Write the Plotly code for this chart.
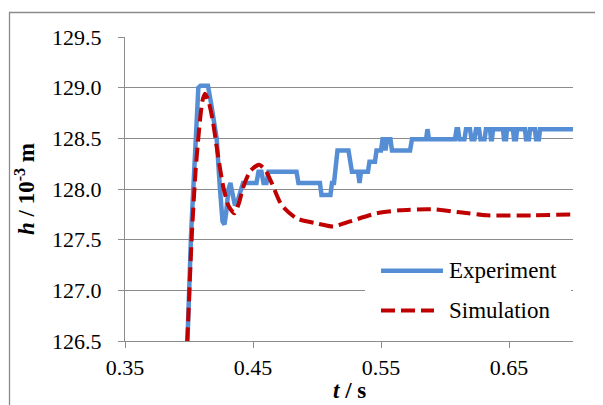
import plotly.graph_objects as go

# ---- data ----
exp_t = [0.3973, 0.3988, 0.4016, 0.4043, 0.4073, 0.4090, 0.4148, 0.4172, 0.4216, 0.4242,
         0.4262, 0.4277, 0.4289, 0.4309, 0.4324, 0.4340, 0.4359, 0.4375, 0.4398, 0.4422,
         0.4527, 0.4543, 0.4566, 0.4582, 0.4605, 0.4621, 0.4840, 0.4855, 0.5023, 0.5035,
         0.5105, 0.5117, 0.5133, 0.5145, 0.5160, 0.5246, 0.5262, 0.5273, 0.5320, 0.5332,
         0.5344, 0.5398, 0.5410, 0.5453, 0.5465, 0.5500, 0.5512, 0.5527, 0.5535, 0.5547,
         0.5574, 0.5586, 0.5727, 0.5742, 0.5852, 0.5863, 0.5875, 0.6078, 0.6090,
         0.6102, 0.6113, 0.6152, 0.6164,
         0.6195, 0.6207, 0.6230, 0.6242,
         0.6266, 0.6277, 0.6309, 0.6320,
         0.6352, 0.6359, 0.6367, 0.6375,
         0.6453, 0.6461, 0.6477, 0.6484,
         0.6531, 0.6539, 0.6555, 0.6563,
         0.6625, 0.6633, 0.6656, 0.6664,
         0.6703, 0.6711, 0.6734, 0.6742,
         0.7000]
exp_h = [126.30, 126.50, 127.55, 128.30, 129.00, 129.02, 129.02, 128.85, 128.50, 128.00,
         127.68, 127.65, 127.75, 128.00, 128.06, 127.95, 127.84, 127.86, 127.98, 128.06,
         128.06, 128.17, 128.17, 128.06, 128.06, 128.17, 128.17, 128.06, 128.06, 127.94,
         127.94, 128.06, 128.06, 128.27, 128.38, 128.38, 128.27, 128.17, 128.17, 128.06,
         128.17, 128.17, 128.27, 128.27, 128.38, 128.38, 128.49, 128.49, 128.38, 128.49,
         128.49, 128.38, 128.38, 128.49, 128.49, 128.59, 128.49, 128.49, 128.59,
         128.59, 128.49, 128.49, 128.59,
         128.59, 128.49, 128.49, 128.59,
         128.59, 128.49, 128.49, 128.59,
         128.59, 128.49, 128.49, 128.59,
         128.59, 128.49, 128.49, 128.59,
         128.59, 128.49, 128.49, 128.59,
         128.59, 128.49, 128.49, 128.59,
         128.59, 128.49, 128.49, 128.59,
         128.59]

sim_t = [0.3978, 0.3990, 0.4021, 0.4052, 0.4086, 0.4105, 0.4125, 0.4150, 0.4185, 0.4224,
         0.4268, 0.4310, 0.4354, 0.4390, 0.4424, 0.4480, 0.4548, 0.4600, 0.4646, 0.4724,
         0.4841, 0.4998, 0.5127, 0.5258, 0.5466, 0.5648, 0.5860, 0.5909, 0.6117, 0.6326,
         0.6688, 0.7000]
sim_h = [126.30, 126.60, 127.52, 128.19, 128.68, 128.87, 128.94, 128.88, 128.68, 128.35,
         128.02, 127.83, 127.76, 127.86, 128.02, 128.18, 128.24, 128.18, 128.06, 127.84,
         127.71, 127.66, 127.63, 127.68, 127.76, 127.79, 127.80, 127.80, 127.77, 127.74,
         127.74, 127.75]

x_ticks = [0.35, 0.45, 0.55, 0.65]
x_tick_labels = ["0.35", "0.45", "0.55", "0.65"]
series_names = ["Experiment", "Simulation"]

BLUE = "#558ED5"
RED = "#C00000"
GRID = "#8c8c8c"
FONT = "Liberation Serif, Times New Roman, serif"

fig = go.Figure()
fig.add_trace(go.Scatter(x=exp_t, y=exp_h, mode="lines", name=series_names[0],
                         line=dict(color=BLUE, width=4.5), showlegend=False))
fig.add_trace(go.Scatter(x=sim_t, y=sim_h, mode="lines", name=series_names[1],
                         line=dict(color=RED, width=4, dash="14px,6px", shape="spline", smoothing=0.6),
                         showlegend=False))

# page has an 8px body margin; plot area target on page: x 125..573, y 37..341 px
OFF = 8
PW, PH = 448.0, 304.0
def px(x):
    return (x - 125) / PW
def py(y):
    return (341 - y) / PH

shapes = [
    # outer chart border
    dict(type="rect", xref="paper", yref="paper", x0=px(9.5), x1=px(612), y0=py(12.5), y1=py(420),
         line=dict(color="#8a8a8a", width=1.3), fillcolor="rgba(0,0,0,0)", layer="below"),
    # legend background
    dict(type="rect", xref="paper", yref="paper", x0=px(365), x1=px(571), y0=py(247), y1=py(334),
         line=dict(width=0), fillcolor="white", layer="above"),
    dict(type="line", xref="paper", yref="paper", x0=px(381), x1=px(443), y0=py(270.7), y1=py(270.7),
         line=dict(color=BLUE, width=4.5), layer="above"),
    dict(type="line", xref="paper", yref="paper", x0=px(381), x1=px(434), y0=py(310.5), y1=py(310.5),
         line=dict(color=RED, width=4, dash="14px,6px"), layer="above"),
]
annotations = [
    dict(xref="paper", yref="paper", x=px(447), y=py(270.7), xanchor="left", yanchor="middle",
         text=series_names[0], showarrow=False, font=dict(family=FONT, size=23, color="black")),
    dict(xref="paper", yref="paper", x=px(447), y=py(310.5), xanchor="left", yanchor="middle",
         text=series_names[1], showarrow=False, font=dict(family=FONT, size=23, color="black")),
    # x-axis title
    dict(xref="paper", yref="paper", x=0.5, y=py(390), xanchor="center", yanchor="middle",
         text="<b><i>t</i> / s</b>", showarrow=False, font=dict(family=FONT, size=23, color="black")),
]

fig.update_layout(
    width=603, height=405,
    margin=dict(l=125 - OFF, r=603 - (125 - OFF) - 448, t=37 - OFF, b=405 - (37 - OFF) - 304,
                autoexpand=False),
    paper_bgcolor="white", plot_bgcolor="white",
    font=dict(family=FONT, size=22, color="black"),
    shapes=shapes, annotations=annotations,
    showlegend=False,
)
fig.update_xaxes(
    range=[0.35, 0.70], tickvals=x_ticks, ticktext=x_tick_labels,
    showgrid=False, showline=True, linecolor=GRID, linewidth=1.3,
    ticks="outside", ticklen=6, tickcolor=GRID, tickwidth=1.3,
    tickfont=dict(family=FONT, size=22),
    zeroline=False, automargin=False,
)
fig.update_yaxes(
    range=[126.5, 129.5], dtick=0.5, tick0=126.5, tickformat=".1f",
    showgrid=True, gridcolor=GRID, gridwidth=1.3,
    showline=True, linecolor=GRID, linewidth=1.3,
    ticks="outside", ticklen=6, tickcolor=GRID, tickwidth=1.3,
    tickfont=dict(family=FONT, size=22), ticklabelstandoff=12,
    title=dict(text="<b><i>h</i> / 10<sup>-3</sup> m</b>", font=dict(family=FONT, size=23), standoff=10),
    zeroline=False, automargin=False,
)

fig.write_html("out.html")
